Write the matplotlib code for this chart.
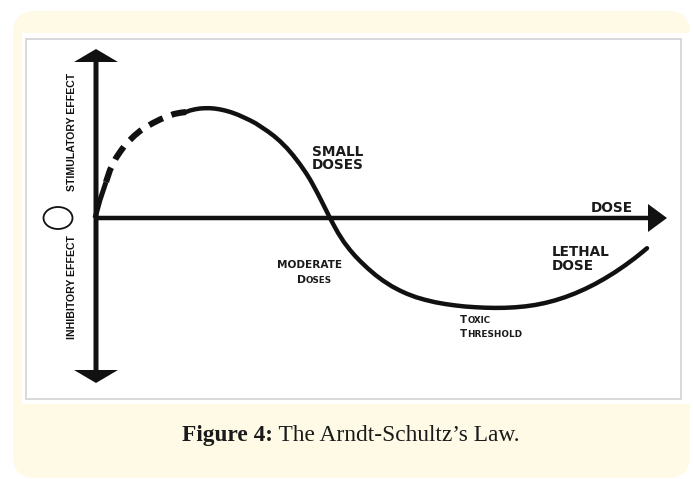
import matplotlib
matplotlib.use("Agg")
import matplotlib.pyplot as plt
from matplotlib import font_manager as fm
from matplotlib.patches import FancyBboxPatch, Rectangle, Ellipse, FancyArrow

# ---------------- data (pixel space) ----------------
# start wedge of the dose-response curve
start_x = [95, 100, 106]
start_y = [218, 200, 182]
# dashed (uncertain) low-dose part
dashed_x = [106, 108, 110, 113, 116, 120, 124, 129, 134, 140, 146, 153, 160, 167, 174, 180, 186]
dashed_y = [182, 176, 170, 164, 158, 152, 146.5, 141, 136, 131, 127, 123, 119.5, 116.5, 114, 112.8, 112]
# solid main part
solid_x = [186, 190, 195, 200, 205, 210, 215, 220, 225, 231, 238, 244, 250, 256, 262,
           268, 274, 280, 287, 293, 300, 306, 310, 313, 317, 320, 323, 326, 330, 334,
           338, 344, 350, 355, 360, 368, 376, 383, 392, 400, 407, 416, 425, 435, 445,
           455, 465, 475, 485, 495, 505, 515, 525, 535, 545, 555, 565, 575, 585, 595,
           605, 615, 625, 635, 642, 647]
solid_y = [112, 110.5, 109.3, 108.5, 108.2, 108.2, 108.6, 109.4, 110.5, 112.2, 114.8,
           117.5, 120.3, 123.5, 127.5, 131.5, 136, 141.2, 148.2, 155.2, 164.3, 173,
           179.4, 184.8, 192.2, 198, 204, 210, 218, 225.6, 232.8, 242.2, 250, 255.8,
           261, 268.6, 275.4, 280.6, 286.4, 290.6, 293.8, 297.2, 299.8, 302.2, 304,
           305.4, 306.5, 307.2, 307.7, 307.9, 307.8, 307.3, 306.4, 305, 303, 300.4,
           297.2, 293.4, 289, 284, 278.4, 272.2, 265.4, 258, 252.4, 248.2]

# axes geometry
X0, Y0 = 96, 218          # origin
Y_TOP, Y_BOT = 49, 383    # vertical arrow tips
X_END = 667               # horizontal arrow tip

caption_bold = "Figure 4:"
caption_rest = " The Arndt-Schultz\u2019s Law."

INK = "#111111"
CREAM = "#FEFAE6"

W, H = 693, 479
fig = plt.figure(figsize=(W / 100, H / 100), dpi=100)
fig.patch.set_facecolor("white")
ax = fig.add_axes([0, 0, 1, 1])
ax.set_xlim(0, W)
ax.set_ylim(H, 0)
ax.axis("off")

# background card
ax.add_patch(FancyBboxPatch((13, 11), 677, 467,
                            boxstyle="round,pad=0,rounding_size=22",
                            facecolor=CREAM, edgecolor="none", zorder=0))
ax.add_patch(Rectangle((22, 33), 668, 371, facecolor="white", edgecolor="none", zorder=1))
ax.add_patch(Rectangle((26, 39), 655, 360, facecolor="none", edgecolor="#d2d2d2",
                       lw=1.2, zorder=2))

# axes arrows
ax.add_patch(FancyArrow(X0, Y0, 0, Y_TOP - Y0, width=5, head_width=44, head_length=13,
                        length_includes_head=True, color=INK, lw=0, zorder=3))
ax.add_patch(FancyArrow(X0, Y0, 0, Y_BOT - Y0, width=5, head_width=44, head_length=13,
                        length_includes_head=True, color=INK, lw=0, zorder=3))
ax.add_patch(FancyArrow(X0, Y0, X_END - X0, 0, width=4.5, head_width=28, head_length=19,
                        length_includes_head=True, color=INK, lw=0, zorder=3))

# curve
ax.plot(start_x, start_y, color=INK, lw=3.6, solid_capstyle="butt", zorder=4)
ax.plot(dashed_x, dashed_y, color=INK, lw=4.4, dashes=(2.5, 1.5), dash_capstyle="butt",
        solid_joinstyle="round", zorder=4)
ax.plot(solid_x, solid_y, color=INK, lw=3.2, solid_capstyle="round",
        solid_joinstyle="round", zorder=4)

# circle symbol
ax.add_patch(Ellipse((58, 218), 29, 22, facecolor="none", edgecolor=INK, lw=1.3, zorder=4))

# rotated labels
names = {f.name for f in fm.fontManager.ttflist}
if "Liberation Sans Narrow" in names:
    rot_family, rot_size = "Liberation Sans Narrow", 9.0
else:
    rot_family, rot_size = "Liberation Sans", 7.6
ax.text(72, 132, "STIMULATORY EFFECT", rotation=90, ha="center", va="center",
        family=rot_family, weight="bold", fontsize=rot_size, color=INK, zorder=5)
ax.text(72, 287, "INHIBITORY EFFECT", rotation=90, ha="center", va="center",
        family=rot_family, weight="bold", fontsize=rot_size, color=INK, zorder=5)

lab = dict(family="DejaVu Sans", weight="bold", color="#1a1a1a", zorder=5)
ax.text(312, 156, "SMALL", fontsize=9.8, va="baseline", **lab)
ax.text(312, 169, "DOSES", fontsize=9.8, va="baseline", **lab)
ax.text(591, 212, "DOSE", fontsize=9.8, va="baseline", **lab)
ax.text(552, 256, "LETHAL", fontsize=9.8, va="baseline", **lab)
ax.text(552, 270, "DOSE", fontsize=9.8, va="baseline", **lab)
ax.text(342, 268, "MODERATE", fontsize=7.6, va="baseline", ha="right", **lab)


def small_caps(x, y, first, rest, big, small):
    t = ax.text(x, y, first, fontsize=big, va="baseline", **lab)
    ax.annotate(rest, xy=(1, 0), xycoords=t, va="bottom", ha="left",
                fontsize=small, **lab)
    return t


small_caps(297, 283, "D", "OSES", 7.8, 6.3)
small_caps(460, 323, "T", "OXIC", 7.4, 6.2)
small_caps(460, 337, "T", "HRESHOLD", 7.4, 6.4)

# caption
cap_font = dict(family="Liberation Serif", fontsize=16.8, color="#1a1a1a", zorder=5)
t1 = ax.text(0, 441, caption_bold, weight="bold", va="baseline", ha="left", **cap_font)
t2 = ax.annotate(caption_rest, xy=(1, 0), xycoords=t1, va="bottom", ha="left", **cap_font)
fig.canvas.draw()
r = fig.canvas.get_renderer()
w_total = t1.get_window_extent(r).width + t2.get_window_extent(r).width
t1.set_x(351 - w_total / 2)

fig.savefig("out.png", dpi=100, facecolor=fig.get_facecolor())
